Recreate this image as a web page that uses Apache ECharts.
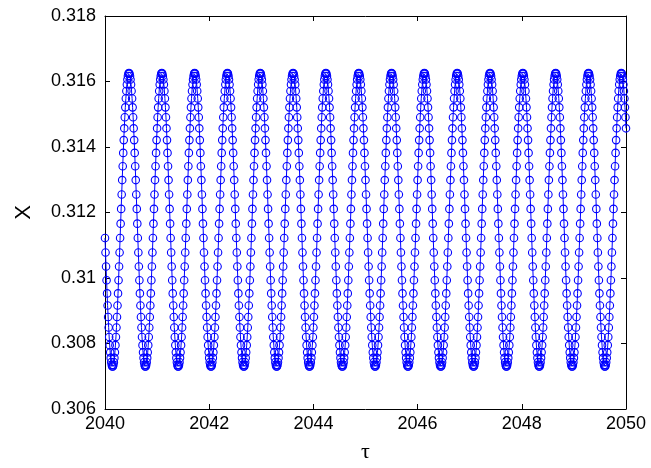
<!DOCTYPE html>
<html>
<head>
<meta charset="utf-8">
<script src="https://cdn.jsdelivr.net/npm/echarts@6/dist/echarts.min.js"></script>
<style>
  html, body { margin: 0; padding: 0; background: #fff; }
  #chart { width: 651px; height: 468px; }
</style>
</head>
<body>
<div id="chart"></div>
<script>
// time sampling of the series (tau)
var tauStart = 2040;
var tauStep = 0.01;

// tick labels
var xTicks = [2040, 2042, 2044, 2046, 2048, 2050];
var yTicks = [0.306, 0.308, 0.31, 0.312, 0.314, 0.316, 0.318];

// X values, one per tau step (2040.00 ... 2050.00)
var xValues = [
  0.31122,0.31078,0.31035,0.30993,0.30953,0.30916,0.30881,0.30849,0.30820,0.30795,0.30773,0.30756,0.30743,0.30734,0.30730,0.30730,0.30734,0.30743,0.30756,0.30773,0.30795,0.30820,0.30849,0.30881,0.30916,0.30953,0.30993,0.31035,0.31078,0.31122,0.31166,0.31211,0.31255,0.31299,0.31341,0.31382,0.31421,0.31457,0.31491,0.31521,0.31548,0.31571,0.31591,0.31606,0.31617,0.31624,
  // cycle 1
  0.31626,0.31624,0.31617,0.31606,0.31591,0.31571,0.31548,0.31521,0.31491,0.31457,0.31421,0.31382,0.31341,0.31299,0.31255,0.31211,0.31166,0.31122,0.31078,0.31035,0.30993,0.30953,0.30916,0.30881,0.30849,0.30820,0.30795,0.30773,0.30756,0.30743,0.30734,0.30730,0.30730,0.30734,0.30743,0.30756,0.30773,0.30795,0.30820,0.30849,0.30881,0.30916,0.30953,0.30993,0.31035,0.31078,0.31122,0.31166,0.31211,0.31255,0.31299,0.31341,0.31382,0.31421,0.31457,0.31491,0.31521,0.31548,0.31571,0.31591,0.31606,0.31617,0.31624,
  // cycle 2
  0.31626,0.31624,0.31617,0.31606,0.31591,0.31571,0.31548,0.31521,0.31491,0.31457,0.31421,0.31382,0.31341,0.31299,0.31255,0.31211,0.31166,0.31122,0.31078,0.31035,0.30993,0.30953,0.30916,0.30881,0.30849,0.30820,0.30795,0.30773,0.30756,0.30743,0.30734,0.30730,0.30730,0.30734,0.30743,0.30756,0.30773,0.30795,0.30820,0.30849,0.30881,0.30916,0.30953,0.30993,0.31035,0.31078,0.31122,0.31166,0.31211,0.31255,0.31299,0.31341,0.31382,0.31421,0.31457,0.31491,0.31521,0.31548,0.31571,0.31591,0.31606,0.31617,0.31624,
  // cycle 3
  0.31626,0.31624,0.31617,0.31606,0.31591,0.31571,0.31548,0.31521,0.31491,0.31457,0.31421,0.31382,0.31341,0.31299,0.31255,0.31211,0.31166,0.31122,0.31078,0.31035,0.30993,0.30953,0.30916,0.30881,0.30849,0.30820,0.30795,0.30773,0.30756,0.30743,0.30734,0.30730,0.30730,0.30734,0.30743,0.30756,0.30773,0.30795,0.30820,0.30849,0.30881,0.30916,0.30953,0.30993,0.31035,0.31078,0.31122,0.31166,0.31211,0.31255,0.31299,0.31341,0.31382,0.31421,0.31457,0.31491,0.31521,0.31548,0.31571,0.31591,0.31606,0.31617,0.31624,
  // cycle 4
  0.31626,0.31624,0.31617,0.31606,0.31591,0.31571,0.31548,0.31521,0.31491,0.31457,0.31421,0.31382,0.31341,0.31299,0.31255,0.31211,0.31166,0.31122,0.31078,0.31035,0.30993,0.30953,0.30916,0.30881,0.30849,0.30820,0.30795,0.30773,0.30756,0.30743,0.30734,0.30730,0.30730,0.30734,0.30743,0.30756,0.30773,0.30795,0.30820,0.30849,0.30881,0.30916,0.30953,0.30993,0.31035,0.31078,0.31122,0.31166,0.31211,0.31255,0.31299,0.31341,0.31382,0.31421,0.31457,0.31491,0.31521,0.31548,0.31571,0.31591,0.31606,0.31617,0.31624,
  // cycle 5
  0.31626,0.31624,0.31617,0.31606,0.31591,0.31571,0.31548,0.31521,0.31491,0.31457,0.31421,0.31382,0.31341,0.31299,0.31255,0.31211,0.31166,0.31122,0.31078,0.31035,0.30993,0.30953,0.30916,0.30881,0.30849,0.30820,0.30795,0.30773,0.30756,0.30743,0.30734,0.30730,0.30730,0.30734,0.30743,0.30756,0.30773,0.30795,0.30820,0.30849,0.30881,0.30916,0.30953,0.30993,0.31035,0.31078,0.31122,0.31166,0.31211,0.31255,0.31299,0.31341,0.31382,0.31421,0.31457,0.31491,0.31521,0.31548,0.31571,0.31591,0.31606,0.31617,0.31624,
  // cycle 6
  0.31626,0.31624,0.31617,0.31606,0.31591,0.31571,0.31548,0.31521,0.31491,0.31457,0.31421,0.31382,0.31341,0.31299,0.31255,0.31211,0.31166,0.31122,0.31078,0.31035,0.30993,0.30953,0.30916,0.30881,0.30849,0.30820,0.30795,0.30773,0.30756,0.30743,0.30734,0.30730,0.30730,0.30734,0.30743,0.30756,0.30773,0.30795,0.30820,0.30849,0.30881,0.30916,0.30953,0.30993,0.31035,0.31078,0.31122,0.31166,0.31211,0.31255,0.31299,0.31341,0.31382,0.31421,0.31457,0.31491,0.31521,0.31548,0.31571,0.31591,0.31606,0.31617,0.31624,
  // cycle 7
  0.31626,0.31624,0.31617,0.31606,0.31591,0.31571,0.31548,0.31521,0.31491,0.31457,0.31421,0.31382,0.31341,0.31299,0.31255,0.31211,0.31166,0.31122,0.31078,0.31035,0.30993,0.30953,0.30916,0.30881,0.30849,0.30820,0.30795,0.30773,0.30756,0.30743,0.30734,0.30730,0.30730,0.30734,0.30743,0.30756,0.30773,0.30795,0.30820,0.30849,0.30881,0.30916,0.30953,0.30993,0.31035,0.31078,0.31122,0.31166,0.31211,0.31255,0.31299,0.31341,0.31382,0.31421,0.31457,0.31491,0.31521,0.31548,0.31571,0.31591,0.31606,0.31617,0.31624,
  // cycle 8
  0.31626,0.31624,0.31617,0.31606,0.31591,0.31571,0.31548,0.31521,0.31491,0.31457,0.31421,0.31382,0.31341,0.31299,0.31255,0.31211,0.31166,0.31122,0.31078,0.31035,0.30993,0.30953,0.30916,0.30881,0.30849,0.30820,0.30795,0.30773,0.30756,0.30743,0.30734,0.30730,0.30730,0.30734,0.30743,0.30756,0.30773,0.30795,0.30820,0.30849,0.30881,0.30916,0.30953,0.30993,0.31035,0.31078,0.31122,0.31166,0.31211,0.31255,0.31299,0.31341,0.31382,0.31421,0.31457,0.31491,0.31521,0.31548,0.31571,0.31591,0.31606,0.31617,0.31624,
  // cycle 9
  0.31626,0.31624,0.31617,0.31606,0.31591,0.31571,0.31548,0.31521,0.31491,0.31457,0.31421,0.31382,0.31341,0.31299,0.31255,0.31211,0.31166,0.31122,0.31078,0.31035,0.30993,0.30953,0.30916,0.30881,0.30849,0.30820,0.30795,0.30773,0.30756,0.30743,0.30734,0.30730,0.30730,0.30734,0.30743,0.30756,0.30773,0.30795,0.30820,0.30849,0.30881,0.30916,0.30953,0.30993,0.31035,0.31078,0.31122,0.31166,0.31211,0.31255,0.31299,0.31341,0.31382,0.31421,0.31457,0.31491,0.31521,0.31548,0.31571,0.31591,0.31606,0.31617,0.31624,
  // cycle 10
  0.31626,0.31624,0.31617,0.31606,0.31591,0.31571,0.31548,0.31521,0.31491,0.31457,0.31421,0.31382,0.31341,0.31299,0.31255,0.31211,0.31166,0.31122,0.31078,0.31035,0.30993,0.30953,0.30916,0.30881,0.30849,0.30820,0.30795,0.30773,0.30756,0.30743,0.30734,0.30730,0.30730,0.30734,0.30743,0.30756,0.30773,0.30795,0.30820,0.30849,0.30881,0.30916,0.30953,0.30993,0.31035,0.31078,0.31122,0.31166,0.31211,0.31255,0.31299,0.31341,0.31382,0.31421,0.31457,0.31491,0.31521,0.31548,0.31571,0.31591,0.31606,0.31617,0.31624,
  // cycle 11
  0.31626,0.31624,0.31617,0.31606,0.31591,0.31571,0.31548,0.31521,0.31491,0.31457,0.31421,0.31382,0.31341,0.31299,0.31255,0.31211,0.31166,0.31122,0.31078,0.31035,0.30993,0.30953,0.30916,0.30881,0.30849,0.30820,0.30795,0.30773,0.30756,0.30743,0.30734,0.30730,0.30730,0.30734,0.30743,0.30756,0.30773,0.30795,0.30820,0.30849,0.30881,0.30916,0.30953,0.30993,0.31035,0.31078,0.31122,0.31166,0.31211,0.31255,0.31299,0.31341,0.31382,0.31421,0.31457,0.31491,0.31521,0.31548,0.31571,0.31591,0.31606,0.31617,0.31624,
  // cycle 12
  0.31626,0.31624,0.31617,0.31606,0.31591,0.31571,0.31548,0.31521,0.31491,0.31457,0.31421,0.31382,0.31341,0.31299,0.31255,0.31211,0.31166,0.31122,0.31078,0.31035,0.30993,0.30953,0.30916,0.30881,0.30849,0.30820,0.30795,0.30773,0.30756,0.30743,0.30734,0.30730,0.30730,0.30734,0.30743,0.30756,0.30773,0.30795,0.30820,0.30849,0.30881,0.30916,0.30953,0.30993,0.31035,0.31078,0.31122,0.31166,0.31211,0.31255,0.31299,0.31341,0.31382,0.31421,0.31457,0.31491,0.31521,0.31548,0.31571,0.31591,0.31606,0.31617,0.31624,
  // cycle 13
  0.31626,0.31624,0.31617,0.31606,0.31591,0.31571,0.31548,0.31521,0.31491,0.31457,0.31421,0.31382,0.31341,0.31299,0.31255,0.31211,0.31166,0.31122,0.31078,0.31035,0.30993,0.30953,0.30916,0.30881,0.30849,0.30820,0.30795,0.30773,0.30756,0.30743,0.30734,0.30730,0.30730,0.30734,0.30743,0.30756,0.30773,0.30795,0.30820,0.30849,0.30881,0.30916,0.30953,0.30993,0.31035,0.31078,0.31122,0.31166,0.31211,0.31255,0.31299,0.31341,0.31382,0.31421,0.31457,0.31491,0.31521,0.31548,0.31571,0.31591,0.31606,0.31617,0.31624,
  // cycle 14
  0.31626,0.31624,0.31617,0.31606,0.31591,0.31571,0.31548,0.31521,0.31491,0.31457,0.31421,0.31382,0.31341,0.31299,0.31255,0.31211,0.31166,0.31122,0.31078,0.31035,0.30993,0.30953,0.30916,0.30881,0.30849,0.30820,0.30795,0.30773,0.30756,0.30743,0.30734,0.30730,0.30730,0.30734,0.30743,0.30756,0.30773,0.30795,0.30820,0.30849,0.30881,0.30916,0.30953,0.30993,0.31035,0.31078,0.31122,0.31166,0.31211,0.31255,0.31299,0.31341,0.31382,0.31421,0.31457,0.31491,0.31521,0.31548,0.31571,0.31591,0.31606,0.31617,0.31624,
  // cycle 15
  0.31626,0.31624,0.31617,0.31606,0.31591,0.31571,0.31548,0.31521,0.31491,0.31457,0.31421,0.31382,0.31341,0.31299,0.31255,0.31211,0.31166,0.31122,0.31078,0.31035,0.30993,0.30953,0.30916,0.30881,0.30849,0.30820,0.30795,0.30773,0.30756,0.30743,0.30734,0.30730,0.30730,0.30734,0.30743,0.30756,0.30773,0.30795,0.30820,0.30849,0.30881,0.30916,0.30953,0.30993,0.31035,0.31078,0.31122,0.31166,0.31211,0.31255,0.31299,0.31341,0.31382,0.31421,0.31457,0.31491,0.31521,0.31548,0.31571,0.31591,0.31606,0.31617,0.31624,
  // last peak
  0.31626,0.31624,0.31617,0.31606,0.31591,0.31571,0.31548,0.31521,0.31491,0.31457
];

var font = "'Liberation Sans', Arial, sans-serif";

// pair each value with its tau
var seriesData = xValues.map(function (v, i) {
  return [+(tauStart + i * tauStep).toFixed(2), v];
});

var xMin = xTicks[0], xMax = xTicks[xTicks.length - 1], xStep = xTicks[1] - xTicks[0];
var yMin = yTicks[0], yMax = yTicks[yTicks.length - 1], yStep = +(yTicks[1] - yTicks[0]).toFixed(3);

var chart = echarts.init(document.getElementById('chart'));
var option = {
  animation: false,
  backgroundColor: '#fff',
  grid: { left: 105, right: 25, top: 16, bottom: 56, containLabel: false },
  xAxis: [
    {
      type: 'value', min: xMin, max: xMax, interval: xStep,
      name: 'τ', nameLocation: 'middle', nameGap: 32,
      nameTextStyle: { fontFamily: "'Liberation Serif', 'DejaVu Serif', serif", fontSize: 22, color: '#000' },
      axisLine: { show: true, lineStyle: { color: '#000', width: 1 } },
      axisTick: { show: true, inside: true, length: 5, lineStyle: { color: '#000' } },
      axisLabel: { color: '#000', fontFamily: font, fontSize: 18, margin: 6,
        formatter: function (v) { return String(v); } },
      splitLine: { show: false }
    },
    {
      type: 'value', position: 'top', min: xMin, max: xMax, interval: xStep,
      axisLine: { show: true, lineStyle: { color: '#000', width: 1 } },
      axisTick: { show: true, inside: true, length: 5, lineStyle: { color: '#000' } },
      axisLabel: { show: false },
      splitLine: { show: false }
    }
  ],
  yAxis: [
    {
      type: 'value', min: yMin, max: yMax, interval: yStep,
      name: 'X', nameLocation: 'middle', nameGap: 70, nameRotate: 90,
      nameTextStyle: { fontFamily: font, fontSize: 22, color: '#000' },
      axisLine: { show: true, lineStyle: { color: '#000', width: 1 } },
      axisTick: { show: true, inside: true, length: 5, lineStyle: { color: '#000' } },
      axisLabel: { color: '#000', fontFamily: font, fontSize: 18, margin: 9,
        formatter: function (v) { return String(+v.toFixed(3)); } },
      splitLine: { show: false }
    },
    {
      type: 'value', position: 'right', min: yMin, max: yMax, interval: yStep,
      axisLine: { show: true, lineStyle: { color: '#000', width: 1 } },
      axisTick: { show: true, inside: true, length: 5, lineStyle: { color: '#000' } },
      axisLabel: { show: false },
      splitLine: { show: false }
    }
  ],
  series: [
    {
      type: 'line',
      xAxisIndex: 0,
      yAxisIndex: 0,
      data: seriesData,
      showAllSymbol: true,
      symbol: 'circle',
      symbolSize: 7.5,
      lineStyle: { color: '#0000ff', width: 1 },
      itemStyle: { color: 'rgba(0,0,0,0)', borderColor: '#0000ff', borderWidth: 1.1 },
      clip: true
    }
  ]
};
chart.setOption(option);
</script>
</body>
</html>
